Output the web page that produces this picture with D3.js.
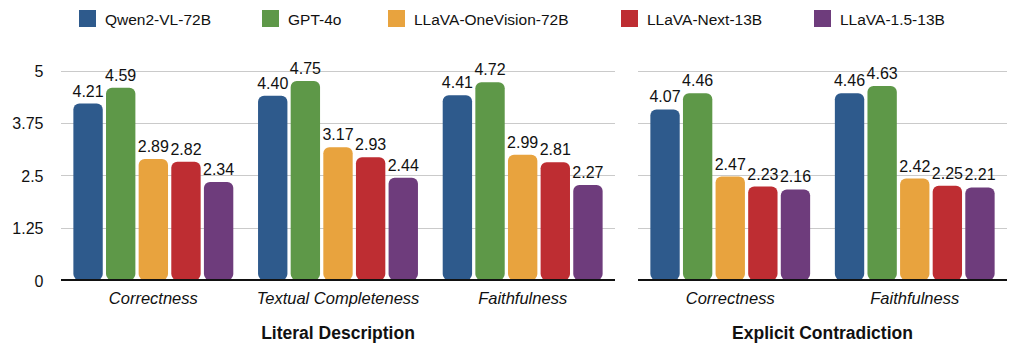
<!DOCTYPE html>
<html>
<head>
<meta charset="utf-8">
<script src="https://cdn.jsdelivr.net/npm/d3@7"></script>
<style>
  body { margin: 0; background: #fff; }
  svg { font-family: "Liberation Sans", Arial, sans-serif; }
</style>
</head>
<body>
<script>
// data
const models = ["Qwen2-VL-72B", "GPT-4o", "LLaVA-OneVision-72B", "LLaVA-Next-13B", "LLaVA-1.5-13B"];
const colors = ["#2e5a8c", "#5e9848", "#e8a33e", "#be2d32", "#6e3c7c"];

const literalCats = ["Correctness", "Textual Completeness", "Faithfulness"];
const literalValues = [
  [4.21, 4.59, 2.89, 2.82, 2.34],
  [4.40, 4.75, 3.17, 2.93, 2.44],
  [4.41, 4.72, 2.99, 2.81, 2.27]
];

const contraCats = ["Correctness", "Faithfulness"];
const contraValues = [
  [4.07, 4.46, 2.47, 2.23, 2.16],
  [4.46, 4.63, 2.42, 2.25, 2.21]
];

const yTicks = [0, 1.25, 2.5, 3.75, 5];
const yTickLabels = ["0", "1.25", "2.5", "3.75", "5"];

// layout
const W = 1016, H = 350;
const svg = d3.select("body").append("svg")
  .attr("width", W)
  .attr("height", H);

const y = d3.scaleLinear().domain([0, 5]).range([280, 70.5]);
const color = d3.scaleOrdinal().domain(models).range(colors);

// legend
const legendX = [79, 262, 388, 621, 814];
const legend = svg.append("g").attr("class", "legend");
models.forEach((m, i) => {
  const g = legend.append("g").attr("transform", `translate(${legendX[i]},10)`);
  g.append("rect").attr("width", 17).attr("height", 17).attr("fill", color(m));
  g.append("text").attr("x", 26).attr("y", 15)
    .attr("font-size", 15.5).attr("fill", "#111").text(m);
});

function panel(cats, values, x0, x1, title, showAxis) {
  const g = svg.append("g");

  const x = d3.scaleBand().domain(cats).range([x0, x1])
    .paddingInner(0.134).paddingOuter(0.067);
  const xi = d3.scaleBand().domain(models).range([0, x.bandwidth()])
    .paddingInner(0.1);

  // grid
  g.selectAll(".grid").data(yTicks.slice(1)).enter()
    .append("line")
    .attr("x1", x0).attr("x2", x1)
    .attr("y1", d => Math.round(y(d)) + 0.5).attr("y2", d => Math.round(y(d)) + 0.5)
    .attr("stroke", "#cacaca").attr("stroke-width", 1);

  if (showAxis) {
    g.selectAll(".ytick").data(yTicks).enter()
      .append("text")
      .attr("x", 43.5).attr("y", d => y(d) + 6.5)
      .attr("text-anchor", "end").attr("font-size", 16).attr("fill", "#111")
      .text((d, i) => yTickLabels[i]);
  }

  const groups = g.selectAll(".grp").data(cats).enter()
    .append("g")
    .attr("transform", d => `translate(${x(d)},0)`);

  groups.selectAll("rect").data((d, i) => values[i].map((v, j) => ({ m: models[j], v })))
    .enter().append("rect")
    .attr("x", d => xi(d.m))
    .attr("y", d => y(d.v))
    .attr("width", xi.bandwidth())
    .attr("height", d => y(0) - y(d.v))
    .attr("rx", 6).attr("ry", 6)
    .attr("fill", d => color(d.m));

  groups.selectAll(".val").data((d, i) => values[i].map((v, j) => ({ m: models[j], v })))
    .enter().append("text")
    .attr("x", d => xi(d.m) + xi.bandwidth() / 2)
    .attr("y", d => y(d.v) - 7)
    .attr("text-anchor", "middle").attr("font-size", 16).attr("fill", "#111")
    .text(d => d.v.toFixed(2));

  // baseline
  g.append("line")
    .attr("x1", x0).attr("x2", x1)
    .attr("y1", y(0)).attr("y2", y(0))
    .attr("stroke", "#111").attr("stroke-width", 2);

  // category labels
  g.selectAll(".cat").data(cats).enter()
    .append("text")
    .attr("x", d => x(d) + x.bandwidth() / 2)
    .attr("y", 304)
    .attr("text-anchor", "middle").attr("font-size", 16.5)
    .attr("font-style", "italic").attr("fill", "#111")
    .text(d => d);

  g.append("text")
    .attr("x", (x0 + x1) / 2).attr("y", 339)
    .attr("text-anchor", "middle").attr("font-size", 17.5)
    .attr("font-weight", "bold").attr("fill", "#111")
    .text(title);
}

panel(literalCats, literalValues, 61, 615, "Literal Description", true);
panel(contraCats, contraValues, 638, 1007, "Explicit Contradiction", false);
</script>
</body>
</html>
